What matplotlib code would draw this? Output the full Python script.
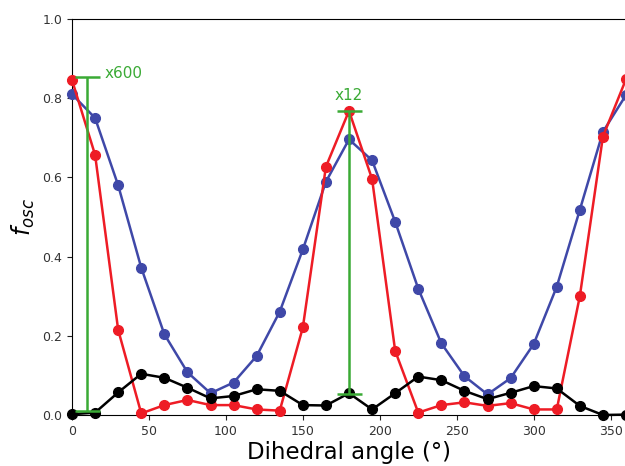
import matplotlib
matplotlib.use('Agg')
import matplotlib.pyplot as plt
import numpy as np

# Dihedral angle grid (deg)
angles = list(range(0, 361, 15))

# Oscillator strengths
f_blue = [0.81, 0.75, 0.58, 0.372, 0.204, 0.108, 0.055, 0.082, 0.149, 0.261, 0.418, 0.589, 0.696,
          0.643, 0.488, 0.319, 0.181, 0.098, 0.052, 0.093, 0.179, 0.324, 0.518, 0.715, 0.808]
f_red = [0.846, 0.657, 0.215, 0.004, 0.025, 0.038, 0.025, 0.025, 0.014, 0.011, 0.221, 0.627, 0.768,
         0.596, 0.162, 0.006, 0.025, 0.032, 0.023, 0.030, 0.014, 0.014, 0.300, 0.703, 0.848]
f_black = [0.002, 0.006, 0.057, 0.104, 0.094, 0.069, 0.042, 0.048, 0.065, 0.061, 0.025, 0.024, 0.055,
           0.014, 0.055, 0.097, 0.088, 0.061, 0.040, 0.056, 0.073, 0.067, 0.023, 0.0, 0.001]

# Scale-factor markers (green bars)
scale_x = [10, 180]
scale_lo = [0.011, 0.052]
scale_hi = [0.853, 0.768]
scale_labels = ['x600', 'x12']

blue = '#3f48a8'
red = '#ee1c25'
green = '#3aaa35'

fig = plt.figure(figsize=(6.25, 4.66), dpi=100)
ax = fig.add_axes([72 / 625, 1 - 415 / 466, 554 / 625, 396 / 466])

ax.plot(angles, f_blue, '-o', color=blue, lw=1.8, ms=7, zorder=3, clip_on=False)
ax.plot(angles, f_red, '-o', color=red, lw=1.8, ms=7, zorder=3, clip_on=False)
ax.plot(angles, f_black, '-o', color='black', lw=1.8, ms=7, zorder=3, clip_on=False)

# green bars showing the scaling
for x, lo, hi, lab in zip(scale_x, scale_lo, scale_hi, scale_labels):
    mid = (lo + hi) / 2
    ax.errorbar([x], [mid], yerr=[[mid - lo], [hi - mid]], color=green, lw=1.8,
                capsize=9, capthick=1.8, zorder=4)
ax.text(scale_x[0] + 11, 0.851, scale_labels[0], color=green, fontsize=11,
        ha='left', va='baseline')
ax.text(scale_x[1], 0.795, scale_labels[1], color=green, fontsize=11,
        ha='center', va='baseline')

ax.set_xlim(0, 360)
ax.set_ylim(0, 1.0)
ax.set_xticks([0, 50, 100, 150, 200, 250, 300, 350])
ax.set_yticks([0.0, 0.2, 0.4, 0.6, 0.8, 1.0])
ax.tick_params(labelsize=9, colors='#222222', labelcolor='#333333')
ax.set_xlabel('Dihedral angle (°)', fontsize=16.5, labelpad=2)
ax.set_ylabel(r'$f_{osc}$', fontsize=17, labelpad=4)

fig.savefig('out.png', dpi=100)
